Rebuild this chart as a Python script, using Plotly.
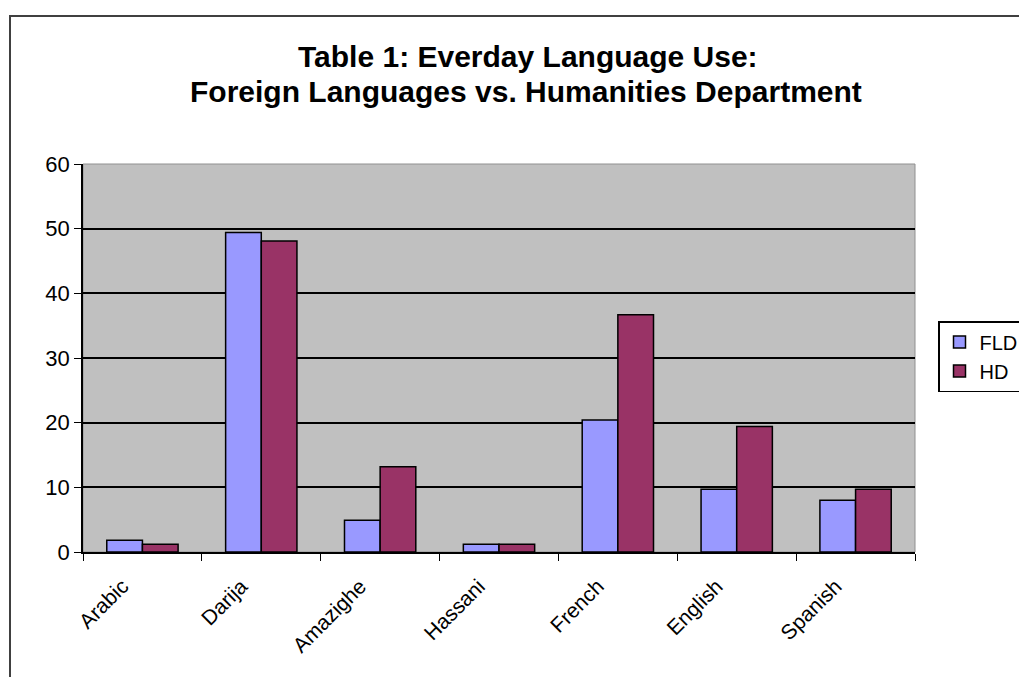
import plotly.graph_objects as go

categories = ["Arabic", "Darija", "Amazighe", "Hassani", "French", "English", "Spanish"]
fld = [1.8, 49.4, 4.9, 1.2, 20.4, 9.7, 8.0]
hd = [1.2, 48.1, 13.2, 1.2, 36.7, 19.4, 9.7]
y_ticks = [0, 10, 20, 30, 40, 50, 60]
title_lines = ["Table 1: Everday Language Use:", "Foreign Languages vs. Humanities Department"]

W, H = 1019, 677
L, R, T, B = 83, 1019 - 915, 164, 677 - 552
pw, ph = W - L - R, H - T - B

def px(x):
    return (x - L) / pw

def py(y):
    return (H - B - y) / ph

fig = go.Figure()
fig.add_trace(go.Bar(name="FLD", x=categories, y=fld, marker=dict(color="#9999FF", line=dict(color="black", width=1.5))))
fig.add_trace(go.Bar(name="HD", x=categories, y=hd, marker=dict(color="#993366", line=dict(color="black", width=1.5))))

title_font = dict(family="Liberation Sans, Arial", size=30, color="black", weight="bold")
annotations = [
    dict(text=title_lines[0], xref="paper", yref="paper", x=px(528), y=py(56),
         xanchor="center", yanchor="middle", showarrow=False, font=title_font),
    dict(text=title_lines[1], xref="paper", yref="paper", x=px(526), y=py(91),
         xanchor="center", yanchor="middle", showarrow=False, font=title_font),
]

fig.update_layout(
    width=W, height=H,
    margin=dict(l=L, r=R, t=T, b=B, autoexpand=False),
    paper_bgcolor="white",
    plot_bgcolor="#C0C0C0",
    barmode="group", bargap=0.4, bargroupgap=0,
    font=dict(family="Liberation Sans, Arial", color="black", size=20),
    annotations=annotations,
    legend=dict(
        x=px(938), y=py(321), xanchor="left", yanchor="top",
        bgcolor="white", bordercolor="black", borderwidth=1.5,
        font=dict(size=20), tracegroupgap=4, itemwidth=30,
    ),
    xaxis=dict(
        showline=True, linecolor="black", linewidth=1.5,
        ticks="outside", tickson="boundaries", ticklen=7, tickcolor="black",
        tickangle=-45, tickfont=dict(size=21), showgrid=False,
        ticklabelshift=-20, ticklabelstandoff=12,
    ),
    yaxis=dict(
        range=[0, 60], tickvals=y_ticks, showline=True, linecolor="black", linewidth=1.5,
        ticks="outside", ticklen=7, tickcolor="black",
        gridcolor="black", gridwidth=1.5, zeroline=False, tickfont=dict(size=22),
    ),
    shapes=[
        dict(type="rect", xref="paper", yref="paper", x0=0, x1=1, y0=0, y1=1,
             line=dict(color="#909090", width=1), layer="below"),
        dict(type="rect", xref="paper", yref="paper", x0=px(10), x1=px(1040), y0=py(16), y1=py(700),
             line=dict(color="#404040", width=2)),
    ],
)

fig.write_html("out.html")
